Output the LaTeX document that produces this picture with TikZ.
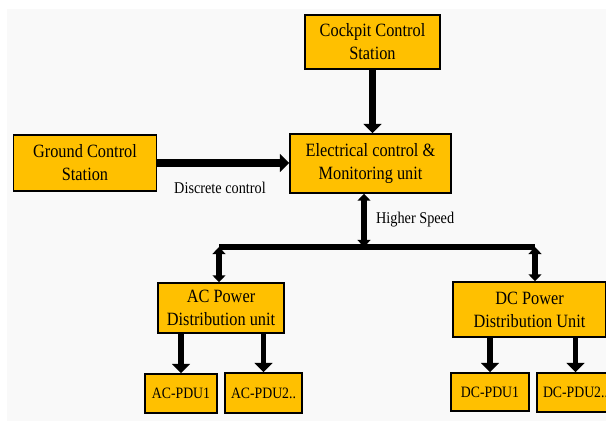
\documentclass[tikz,border=0pt]{standalone}
\usepackage{fontspec}
\setmainfont{Liberation Serif}[FakeStretch=0.87]
\usetikzlibrary{arrows.meta}
\definecolor{boxgold}{HTML}{FFC000}
\definecolor{bggray}{HTML}{F9F9F9}

\tikzset{
  unit/.style={draw=black, line width=1.2pt, fill=boxgold, align=center, inner sep=0pt,
    font=\fontsize{16}{19.6}\selectfont},
  pdu/.style={unit, font=\fontsize{13.5}{16}\selectfont},
  tag/.style={font=\fontsize{14}{16}\selectfont},
  fatarrow/.style={line width=6pt, -{Triangle[width=15pt,length=8pt]}},
  busline/.style={line width=4.3pt},
  busarrow/.style={busline, {Triangle[width=11pt,length=6pt]}-{Triangle[width=11pt,length=6pt]}}
}

\begin{document}
\begin{tikzpicture}[x=0.03cm,y=-0.03cm]
  \useasboundingbox (0,0) rectangle (606,430);
  \fill[bggray] (7,9) rectangle (606,421);
  %\draw[very thin,color=gray] (0,0) grid[step=50] (606,430);
  \node[unit, minimum width=4.05cm, minimum height=1.62cm] (cockpit) at (372.5,42) {Cockpit Control\\Station};
  \node[unit, minimum width=4.29cm, minimum height=1.68cm] (ground) at (85,163) {Ground Control\\Station};
  \node[unit, minimum width=4.83cm, minimum height=1.77cm] (ecmu) at (370.5,163.5) {Electrical control \&\\Monitoring unit};
  \node[unit, minimum width=3.78cm, minimum height=1.5cm] (acpdu) at (221,308) {AC Power\\Distribution unit};
  \node[unit, minimum width=4.59cm, minimum height=1.65cm] (dcpdu) at (529.5,309.5) {DC Power\\Distribution Unit};
  \node[pdu, minimum width=2.16cm, minimum height=1.17cm] (acpdu1) at (181,393.5) {AC-PDU1};
  \node[pdu, minimum width=2.31cm, minimum height=1.2cm] (acpdu2) at (263.5,393) {AC-PDU2..};
  \node[pdu, minimum width=2.34cm, minimum height=1.14cm] (dcpdu1) at (490,392) {DC-PDU1};
  \node[pdu, minimum width=2.31cm, minimum height=1.17cm] (dcpdu2) at (575.5,392.5) {DC-PDU2..};

  \draw[fatarrow] (cockpit.south) -- (cockpit.south |- ecmu.north);
  \draw[fatarrow, line width=7pt] (ground.east) -- (ground.east -| ecmu.west);
  \node[tag] (discrete) at (220,188) {Discrete control};

  \coordinate (bus) at (364,247);
  \coordinate (busL) at (219,247);
  \coordinate (busR) at (535,247);
  \draw[busarrow] (ecmu.south -| bus) -- (bus);
  \node[tag, anchor=west] (speed) at (372,220) {Higher Speed};
  \draw[busline] (busL) -- (busR);
  \draw[busarrow] (busL) -- (busL |- acpdu.north);
  \draw[busarrow] (busR) -- (busR |- dcpdu.north);

  \draw[fatarrow, line width=5pt] (acpdu.south -| acpdu1.north) -- (acpdu1.north);
  \draw[fatarrow, line width=5pt] (acpdu.south -| acpdu2.north) -- (acpdu2.north);
  \draw[fatarrow, line width=5pt] (dcpdu.south -| dcpdu1.north) -- (dcpdu1.north);
  \draw[fatarrow, line width=5pt] (dcpdu.south -| dcpdu2.north) -- (dcpdu2.north);
\end{tikzpicture}
\end{document}
